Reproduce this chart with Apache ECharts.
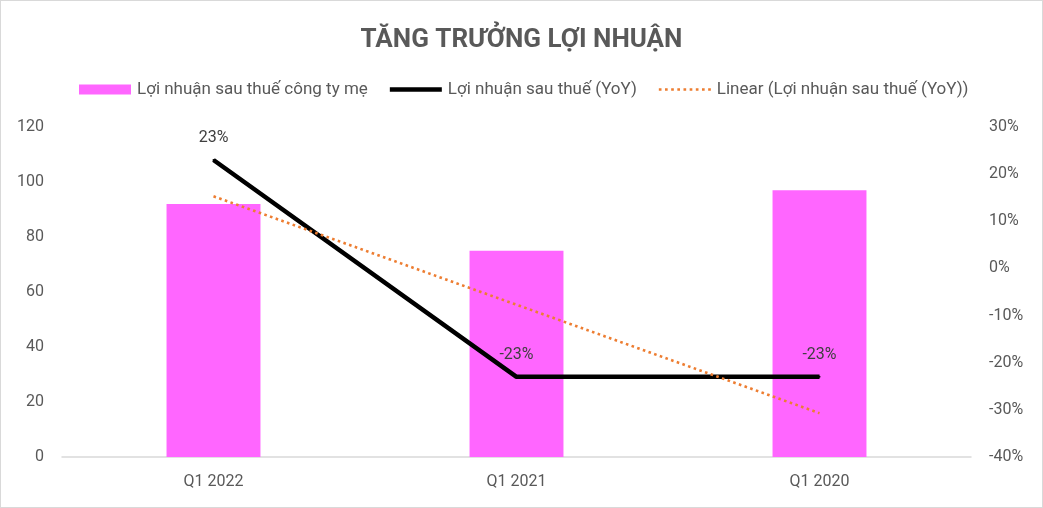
<!DOCTYPE html>
<html>
<head>
<meta charset="utf-8">
<script src="https://cdn.jsdelivr.net/npm/echarts@6/dist/echarts.min.js"></script>
<style>
html,body{margin:0;padding:0;background:#fff;}
#c{width:1041px;height:506px;border:1px solid #d9d9d9;}
</style>
</head>
<body>
<div id="c"></div>
<script>
const categories = ['Q1 2022', 'Q1 2021', 'Q1 2020'];
const profitParent = [92, 75, 97];
const profitYoY = [23, -23, -23];
const trendYoY = [15.3, -7.7, -30.7];
const leftTicks = {min: 0, max: 120, interval: 20};
const rightTicks = {min: -40, max: 30, interval: 10};

const FONT = 'Roboto';
const lineIcon = 'path://M0,0L52,0L52,4.5L0,4.5Z';
let dots = '';
for (let i = 0; i < 9; i++) { const x = i * 6; dots += 'M' + x + ',0h2.6v2.6h-2.6Z'; }
const dotIcon = 'path://' + dots;

const chart = echarts.init(document.getElementById('c'));
chart.setOption({
  backgroundColor: '#fff',
  textStyle: {fontFamily: FONT},
  title: {
    text: 'TĂNG TRƯỞNG LỢI NHUẬN',
    left: 'center', top: 21,
    textStyle: {fontFamily: FONT, fontSize: 26, fontWeight: 'bold', color: '#595959'}
  },
  legend: {
    top: 75, left: 73,
    itemWidth: 52, itemHeight: 10, itemGap: 22,
    textStyle: {fontFamily: FONT, fontSize: 17, color: '#595959', padding: [0, 0, 0, 1]},
    data: [
      {name: 'Lợi nhuận sau thuế công ty mẹ', icon: 'rect'},
      {name: 'Lợi nhuận sau thuế (YoY)', icon: lineIcon},
      {name: 'Linear (Lợi nhuận sau thuế (YoY))', icon: dotIcon}
    ]
  },
  grid: {left: 61, right: 71, top: 126, bottom: 50, containLabel: false},
  xAxis: {
    type: 'category', data: categories,
    axisLine: {lineStyle: {color: '#d9d9d9', width: 1.5}},
    axisTick: {show: false},
    axisLabel: {color: '#595959', fontSize: 16, margin: 17, fontFamily: FONT}
  },
  yAxis: [
    {
      type: 'value', min: leftTicks.min, max: leftTicks.max, interval: leftTicks.interval,
      splitLine: {show: false}, axisLine: {show: false}, axisTick: {show: false},
      axisLabel: {color: '#595959', fontSize: 16, margin: 18, fontFamily: FONT}
    },
    {
      type: 'value', min: rightTicks.min, max: rightTicks.max, interval: rightTicks.interval,
      splitLine: {show: false}, axisLine: {show: false}, axisTick: {show: false},
      axisLabel: {color: '#595959', fontSize: 16, margin: 18, fontFamily: FONT, formatter: '{value}%'}
    }
  ],
  series: [
    {
      name: 'Lợi nhuận sau thuế công ty mẹ', type: 'bar', data: profitParent,
      barWidth: '31%', itemStyle: {color: '#FF66FF'}
    },
    {
      name: 'Lợi nhuận sau thuế (YoY)', type: 'line', yAxisIndex: 1, data: profitYoY,
      symbol: 'circle', symbolSize: 2, showSymbol: true,
      lineStyle: {color: '#000', width: 4.5}, itemStyle: {color: '#000'},
      label: {show: true, position: 'top', distance: 13, formatter: '{c}%', color: '#404040', fontSize: 16, fontFamily: FONT},
      z: 3
    },
    {
      name: 'Linear (Lợi nhuận sau thuế (YoY))', type: 'line', yAxisIndex: 1, data: trendYoY,
      symbol: 'none', lineStyle: {color: '#ED7D31', width: 2.6, type: [2.6, 3.4]},
      itemStyle: {color: '#ED7D31'}, z: 4, silent: true
    }
  ]
});
</script>
</body>
</html>
